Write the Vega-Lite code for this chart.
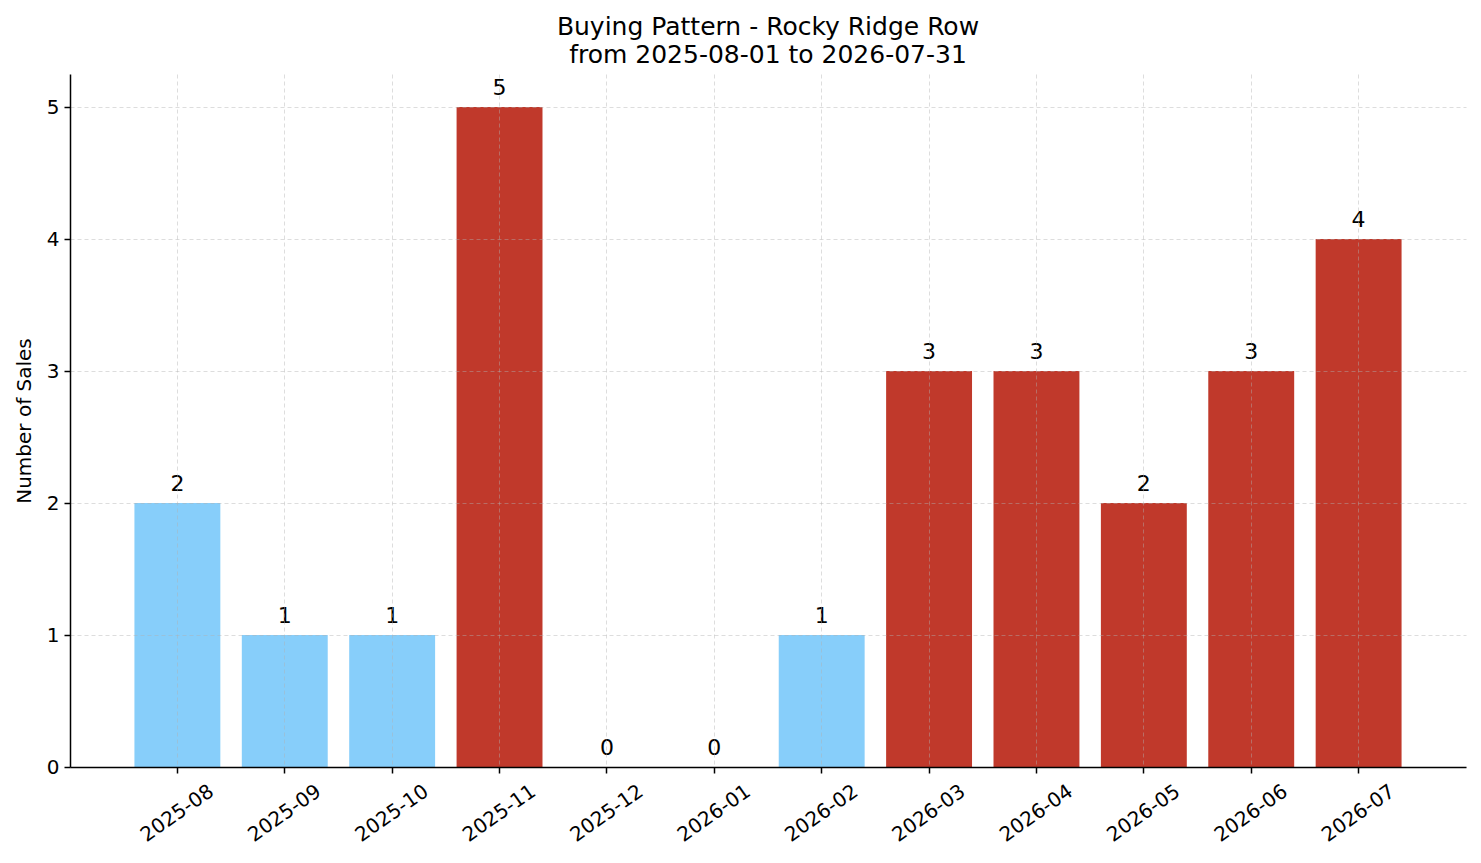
{
  "$schema": "https://vega.github.io/schema/vega-lite/v6.json",
  "autosize": {"type": "none"},
  "padding": {"left": 70, "top": 74, "right": 15, "bottom": 96},
  "width": 1396,
  "height": 693,
  "background": "white",
  "title": {
    "text": ["Buying Pattern - Rocky Ridge Row", "from 2025-08-01 to 2026-07-31"],
    "font": "DejaVu Sans",
    "fontSize": 25,
    "fontWeight": "normal",
    "color": "black",
    "anchor": "middle",
    "offset": 6,
    "lineHeight": 28
  },
  "data": {
    "values": [
      {"month": "2025-08", "sales": 2, "group": "below"},
      {"month": "2025-09", "sales": 1, "group": "below"},
      {"month": "2025-10", "sales": 1, "group": "below"},
      {"month": "2025-11", "sales": 5, "group": "above"},
      {"month": "2025-12", "sales": 0, "group": "below"},
      {"month": "2026-01", "sales": 0, "group": "below"},
      {"month": "2026-02", "sales": 1, "group": "below"},
      {"month": "2026-03", "sales": 3, "group": "above"},
      {"month": "2026-04", "sales": 3, "group": "above"},
      {"month": "2026-05", "sales": 2, "group": "above"},
      {"month": "2026-06", "sales": 3, "group": "above"},
      {"month": "2026-07", "sales": 4, "group": "above"}
    ]
  },
  "encoding": {
    "x": {
      "field": "month", "type": "nominal", "sort": null,
      "scale": {"paddingInner": 0.2, "paddingOuter": 0.6},
      "axis": {
        "title": null,
        "labelAngle": -35,
        "labelAlign": "center",
        "labelBaseline": "middle",
        "labelPadding": 40,
        "labelFont": "DejaVu Sans",
        "labelFontSize": 20,
        "labelColor": "black",
        "bandPosition": 0.5,
        "grid": true,
        "gridColor": "#b0b0b0",
        "gridOpacity": 0.55,
        "gridDash": [4, 3],
        "gridWidth": 0.8,
        "domainColor": "black",
        "domainWidth": 1.5,
        "tickColor": "black",
        "tickSize": 6,
        "tickWidth": 1.5,
        "zindex": 1
      }
    },
    "y": {
      "field": "sales", "type": "quantitative",
      "scale": {"domain": [0, 5.25], "nice": false},
      "axis": {
        "title": "Number of Sales",
        "titleFont": "DejaVu Sans",
        "titleFontSize": 20,
        "titleFontWeight": "normal",
        "titleColor": "black",
        "titlePadding": 12,
        "values": [0, 1, 2, 3, 4, 5],
        "format": "d",
        "labelFont": "DejaVu Sans",
        "labelFontSize": 20,
        "labelColor": "black",
        "labelPadding": 5,
        "grid": true,
        "gridColor": "#b0b0b0",
        "gridOpacity": 0.55,
        "gridDash": [4, 3],
        "gridWidth": 0.8,
        "domainColor": "black",
        "domainWidth": 1.5,
        "tickColor": "black",
        "tickSize": 6,
        "tickWidth": 1.5,
        "zindex": 1
      }
    }
  },
  "layer": [
    {
      "mark": {"type": "bar"},
      "encoding": {
        "color": {
          "field": "group", "type": "nominal",
          "scale": {"domain": ["below", "above"], "range": ["#87CEFA", "#C0392B"]},
          "legend": null
        }
      }
    },
    {
      "mark": {"type": "text", "baseline": "alphabetic", "dy": -12, "font": "DejaVu Sans", "fontSize": 22, "color": "black"},
      "encoding": {"text": {"field": "sales", "type": "quantitative"}}
    }
  ],
  "config": {"view": {"stroke": null}}
}
